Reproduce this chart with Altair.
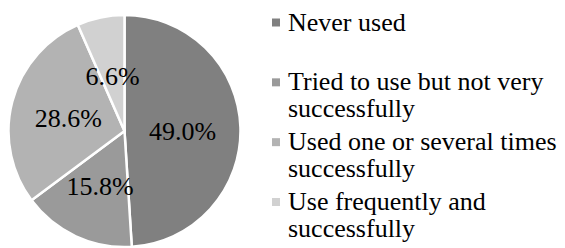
import altair as alt
import pandas as pd

categories = [
    "Never used",
    "Tried to use but not very successfully",
    "Used one or several times successfully",
    "Use frequently and successfully",
]
legend_text = [
    "Never used",
    "Tried to use but not very\nsuccessfully",
    "Used one or several times\nsuccessfully",
    "Use frequently and\nsuccessfully",
]
values = [49.0, 15.8, 28.6, 6.6]
labels = ["49.0%", "15.8%", "28.6%", "6.6%"]
colors = ["#808080", "#9a9a9a", "#b3b3b3", "#d1d1d1"]

df = pd.DataFrame({
    "category": categories,
    "legend": legend_text,
    "value": values,
    "label": labels,
    "order": list(range(len(categories))),
})

FONT = "Liberation Serif"
CX, CY, R = 116.5, 123, 116

color = alt.Color("category:N", scale=alt.Scale(domain=categories, range=colors), legend=None)
base = alt.Chart(df)

pie = base.mark_arc(radius=R, stroke="white", strokeWidth=2.5).encode(
    theta=alt.Theta("value:Q", stack=True),
    order=alt.Order("order:Q"),
    color=color,
    x=alt.value(CX),
    y=alt.value(CY),
)

pie_labels = base.mark_text(radius=58, dy=3, fontSize=26, color="black", font=FONT).encode(
    theta=alt.Theta("value:Q", stack=True),
    order=alt.Order("order:Q"),
    text="label:N",
    x=alt.value(CX),
    y=alt.value(CY),
)

ypos = alt.Y("category:N", sort=categories, axis=None,
             scale=alt.Scale(type="point", range=[14.5, 194], padding=0))

leg_sq = base.mark_square(size=64, opacity=1).encode(
    x=alt.value(268),
    y=ypos,
    color=color,
)

leg_txt = base.mark_text(align="left", baseline="middle", lineBreak="\n",
                         fontSize=26, lineHeight=26.5, color="black", font=FONT).encode(
    x=alt.value(280),
    y=ypos,
    text="legend:N",
)

chart = alt.layer(pie, pie_labels, leg_sq, leg_txt).properties(
    width=549, height=240, padding=0, autosize=alt.AutoSizeParams(type="none")
).configure_view(stroke=None)

chart.save("out.html", embed_options={"renderer": "svg", "actions": False})
